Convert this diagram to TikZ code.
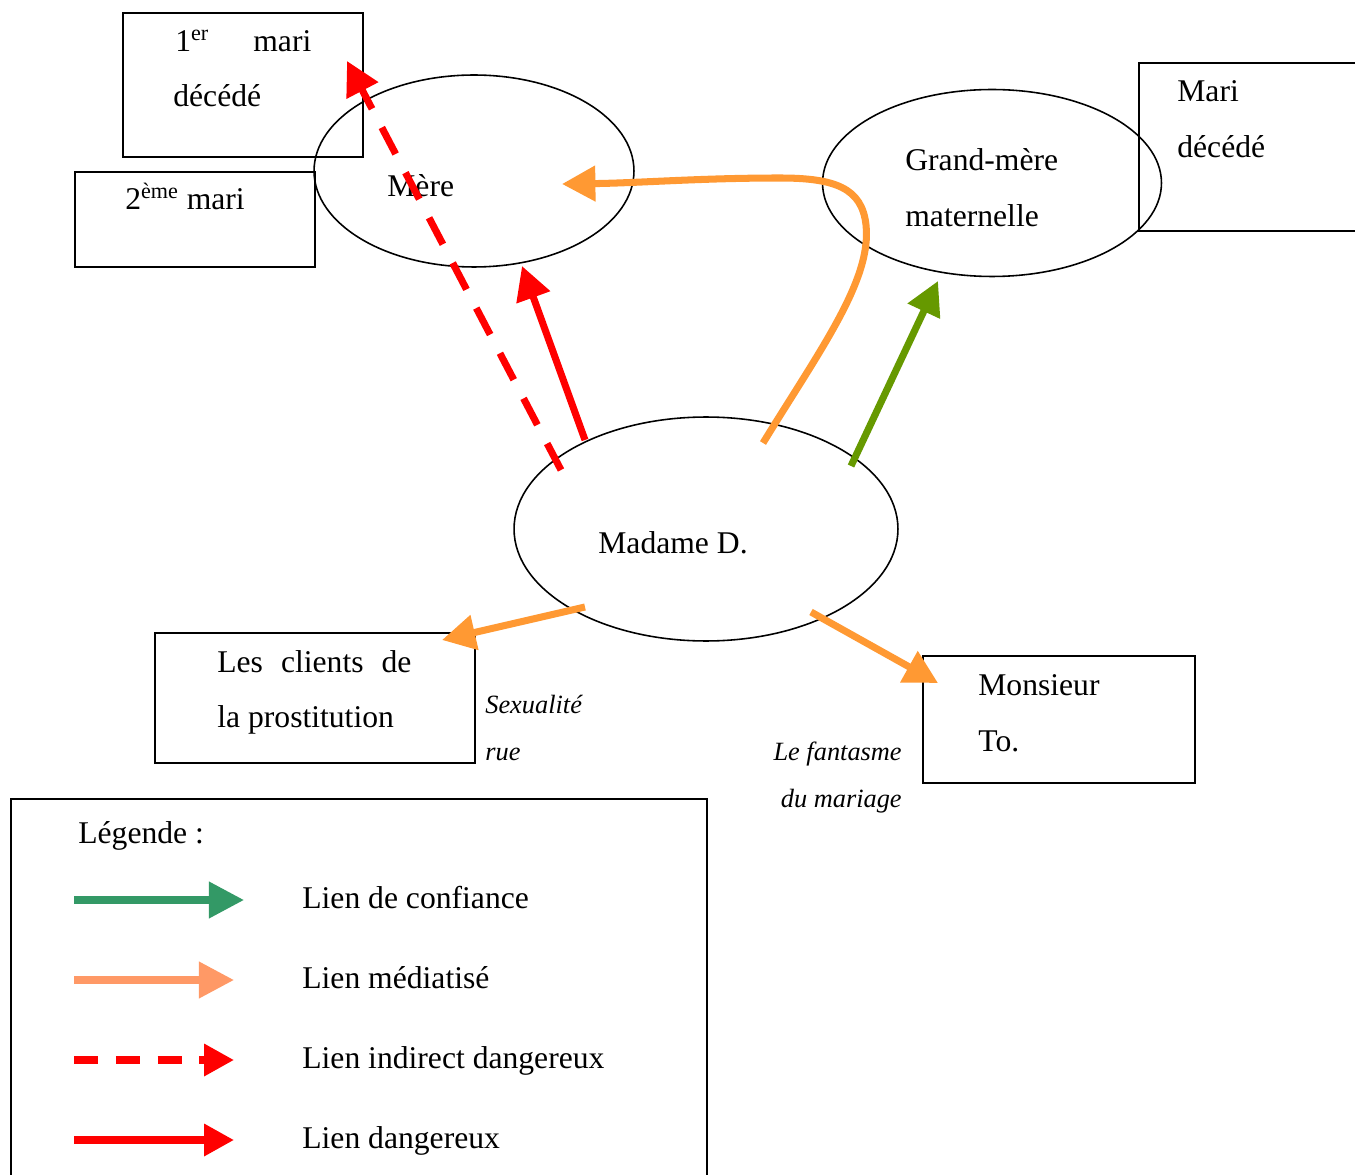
\documentclass[tikz,border=0pt]{standalone}
\usepackage{fontspec}
\setmainfont{Liberation Serif}
\usetikzlibrary{arrows.meta,shapes.geometric}
\definecolor{rd}{HTML}{FF0000}
\definecolor{org}{HTML}{FF9933}
\definecolor{grn}{HTML}{669900}
\definecolor{lgrn}{HTML}{339966}
\definecolor{lorg}{HTML}{FF9966}
\begin{document}
\begin{tikzpicture}[x=0.02cm,y=-0.02cm,
  txt/.style={inner sep=0pt,anchor=base west,font=\fontsize{18}{21}\selectfont},
  itx/.style={inner sep=0pt,anchor=base east,font=\fontsize{15}{18}\selectfont\itshape},
  itxl/.style={inner sep=0pt,anchor=base west,font=\fontsize{15}{18}\selectfont\itshape},
  boxst/.style={draw,line width=1.1pt,inner sep=0pt,anchor=north west},
  ell/.style={draw,ellipse,line width=0.9pt,inner sep=0pt},
  lnk/.style={line width=4pt,-{Triangle[length=19pt,width=19.5pt]}},
  legk/.style={line width=4pt,-{Triangle[length=19pt,width=19.5pt]}}
]
\useasboundingbox (0,0) rectangle (1355,1175);
\clip (0,0) rectangle (1355,1175);
\fill[white] (0,0) rectangle (1355,1175);

% boxes
\node[boxst,minimum width=4.8cm,minimum height=2.88cm] (b1) at (122,12) {};
\node[boxst,minimum width=4.8cm,minimum height=1.9cm] (b2) at (74,171) {};
\node[boxst,minimum width=5.4cm,minimum height=3.36cm] (b3) at (1138,62) {};
\node[boxst,minimum width=6.4cm,minimum height=2.6cm] (b4) at (154,632) {};
\node[boxst,minimum width=5.44cm,minimum height=2.54cm] (b5) at (922,655) {};
\node[boxst,minimum width=13.92cm,minimum height=8.2cm] (leg) at (10,798) {};

% ellipses
\node[ell,minimum width=6.4cm,minimum height=3.84cm] (mere) at (474,171) {};
\node[ell,minimum width=6.78cm,minimum height=3.74cm] (gm) at (992,183) {};
\node[ell,minimum width=7.68cm,minimum height=4.48cm] (mad) at (706,529) {};

% texts
\node[txt] (t1a) at (175,52) {1\textsuperscript{er}};
\node[txt] (t1b) at (253,52) {mari};
\node[txt] (t1c) at (173,107) {décédé};
\node[txt] (t2) at (125,210) {2\textsuperscript{ème} mari};
\node[txt] (tm) at (387,197) {Mère};
\node[txt] (tg1) at (905,171) {Grand-mère};
\node[txt] (tg2) at (905,227) {maternelle};
\node[txt] (tr1) at (1177,102) {Mari};
\node[txt] (tr2) at (1177,158) {décédé};
\node[txt] (tmd) at (598,553) {Madame D.};
\node[txt] (tc1) at (217,672) {\makebox[110.5pt][s]{Les clients de}};
\node[txt] (tc2) at (217,727) {la prostitution};
\node[itxl] (ts1) at (485,713) {Sexualité};
\node[itxl] (ts2) at (485,760) {rue};
\node[txt] (tt1) at (978,695) {Monsieur};
\node[txt] (tt2) at (978,751) {To.};
\node[itx] (tf1) at (902,760) {Le fantasme};
\node[itx] (tf2) at (902,807) {du mariage};

% connector end points
\coordinate (dS) at (561,470);
\coordinate (dE) at (347,61);
\coordinate (rS) at (585,440);
\coordinate (rE) at (522,266);
\coordinate (oS) at (763,443);
\coordinate (oE) at (562,184);
\coordinate (gS) at (851,466);
\coordinate (gE) at (938,281);
\coordinate (cS) at (585,607);
\coordinate (cE) at (442,640);
\coordinate (mS) at (811,612);
\coordinate (mE) at (938,683);

% connectors
\draw[lnk,rd,dash pattern=on 17pt off 12pt] (dS) -- (dE);
\draw[lnk,rd] (rS) -- (rE);
\draw[lnk,org] (oS) .. controls (820,350) and (872,280) .. (866,225)
  .. controls (862,188) and (835,178) .. (780,178)
  .. controls (700,178) and (640,183) .. (oE);
\draw[lnk,grn] (gS) -- (gE);
\draw[lnk,org] (cS) -- (cE);
\draw[lnk,org] (mS) -- (mE);

% legend
\node[txt] (lt0) at (78,843) {Légende :};
\node[txt] (lt1) at (302,908) {Lien de confiance};
\node[txt] (lt2) at (302,988) {Lien médiatisé};
\node[txt] (lt3) at (302,1068) {Lien indirect dangereux};
\node[txt] (lt4) at (302,1148) {Lien dangereux};
\coordinate (l1s) at (74,900); \coordinate (l1e) at (244,900);
\coordinate (l2s) at (74,980); \coordinate (l2e) at (234,980);
\coordinate (l3s) at (74,1060); \coordinate (l3e) at (234,1060);
\coordinate (l4s) at (74,1140); \coordinate (l4e) at (234,1140);
\draw[line width=4pt,lgrn,-{Triangle[length=20pt,width=20pt]}] (l1s) -- (l1e);
\draw[line width=4pt,lorg,-{Triangle[length=20pt,width=20pt]}] (l2s) -- (l2e);
\draw[line width=4pt,rd,dash pattern=on 13.6pt off 10.2pt,-{Triangle[length=17pt,width=17.5pt]}] (l3s) -- (l3e);
\draw[line width=4pt,rd,-{Triangle[length=17pt,width=17.5pt]}] (l4s) -- (l4e);
\end{tikzpicture}
\end{document}
